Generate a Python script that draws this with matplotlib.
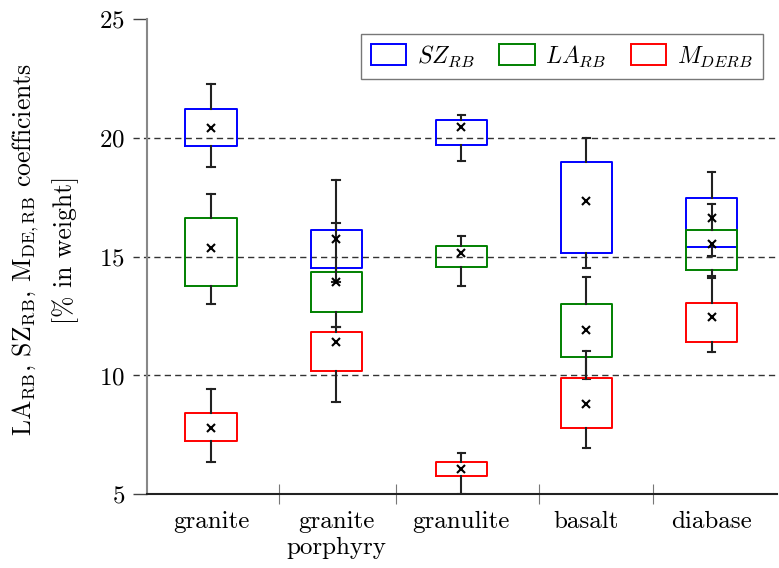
import numpy as np
import matplotlib
matplotlib.use('Agg')
import matplotlib.pyplot as plt
import matplotlib.transforms as mtransforms
from matplotlib.patches import Patch

plt.rcParams['font.family'] = 'serif'
plt.rcParams['font.serif'] = ['cmr10']
plt.rcParams['mathtext.fontset'] = 'cm'
plt.rcParams['axes.formatter.use_mathtext'] = True
plt.rcParams['font.size'] = 18

rocks = ['granite', 'granite\nporphyry', 'granulite', 'basalt', 'diabase']

# each row: whisker low, q1, mean, q3, whisker high
sz_rb = [[18.76, 19.68, 20.41, 21.22, 22.26],
         [13.92, 14.51, 15.73, 16.13, 18.25],
         [19.04, 19.71, 20.46, 20.75, 20.99],
         [14.54, 15.16, 17.33, 19.00, 19.98],
         [15.01, 15.41, 16.62, 17.46, 18.56]]
la_rb = [[13.00, 13.76, 15.35, 16.63, 17.66],
         [12.02, 12.69, 13.92, 14.34, 16.42],
         [13.76, 14.56, 15.16, 15.46, 15.86],
         [9.87, 10.78, 11.93, 13.02, 14.16],
         [14.18, 14.45, 15.54, 16.11, 17.22]]
m_derb = [[6.34, 7.24, 7.78, 8.42, 9.43],
          [8.89, 10.19, 11.41, 11.83, 12.02],
          [5.00, 5.75, 6.05, 6.35, 6.73],
          [6.93, 7.80, 8.81, 9.91, 11.05],
          [11.00, 11.41, 12.48, 13.06, 14.10]]

series = [('$SZ_{RB}$', sz_rb, 'blue'),
          ('$LA_{RB}$', la_rb, 'green'),
          ('$M_{DERB}$', m_derb, 'red')]

grid_levels = [10, 15, 20]
sep_ticks = [1.54, 2.48, 3.62, 4.53]

fig = plt.figure(figsize=(7.79, 5.68), dpi=100)
ax = fig.add_axes([0.189, 0.130, 0.808, 0.836])

# dashed reference lines, running a little past the left spine
trans = mtransforms.blended_transform_factory(ax.transAxes, ax.transData)
for lev in grid_levels:
    ax.plot([-0.022, 1.0], [lev, lev], transform=trans, color='#333333',
            lw=1.0, dashes=(4.5, 3), zorder=0, clip_on=False)

pos = np.arange(1, len(rocks) + 1)
handles = []
for label, rows, col in series:
    stats = []
    for r in rows:
        stats.append(dict(whislo=r[0], q1=r[1], mean=r[2], med=r[2],
                          q3=r[3], whishi=r[4], fliers=[]))
    ax.bxp(stats, positions=pos, widths=0.41, showmeans=True,
           capwidths=0.06,
           boxprops=dict(color=col, lw=1.4),
           whiskerprops=dict(color='#222222', lw=1.5),
           capprops=dict(color='#222222', lw=1.5),
           medianprops=dict(visible=False),
           meanprops=dict(marker='x', markersize=5.5, markeredgewidth=1.5,
                          markeredgecolor='black'))
    handles.append(Patch(facecolor='none', edgecolor=col, lw=1.4, label=label))

ax.set_xlim(0.49, 5.52)
ax.set_ylim(5, 25)
ax.set_yticks([5, 10, 15, 20, 25])
ax.set_xticks(pos)
ax.set_xticklabels(rocks)
ax.set_xticks(sep_ticks, minor=True)
ax.tick_params(axis='x', which='major', length=0, pad=12)
ax.tick_params(axis='x', which='minor', direction='inout', length=14,
               width=0.8, color='#777777')
ax.tick_params(axis='y', length=10, width=1.0, color='#444444', pad=6)
for val, tick in zip(ax.get_yticks(), ax.yaxis.get_major_ticks()):
    if val in grid_levels:
        tick.tick1line.set_visible(False)

for s in ['top', 'right']:
    ax.spines[s].set_visible(False)
ax.spines['left'].set_color('#888888')
ax.spines['left'].set_linewidth(1.5)
ax.spines['bottom'].set_color('#222222')
ax.spines['bottom'].set_linewidth(1.5)

ax.set_ylabel(r'LA$_{\mathrm{RB}}$, SZ$_{\mathrm{RB}}$, M$_{\mathrm{DE,RB}}$ coefficients'
              '\n[% in weight]', fontsize=18.5, linespacing=1.6)
ax.yaxis.set_label_coords(-0.108, 0.515)

leg = ax.legend(handles=handles, ncol=3, loc='upper right',
                bbox_to_anchor=(0.978, 0.97), borderaxespad=0,
                fancybox=False, framealpha=1, edgecolor='#777777',
                fontsize=17, handlelength=1.5, handleheight=1.0,
                columnspacing=1.05, handletextpad=0.45, borderpad=0.42)
leg.get_frame().set_linewidth(1.0)

fig.savefig('out.png', dpi=100)
